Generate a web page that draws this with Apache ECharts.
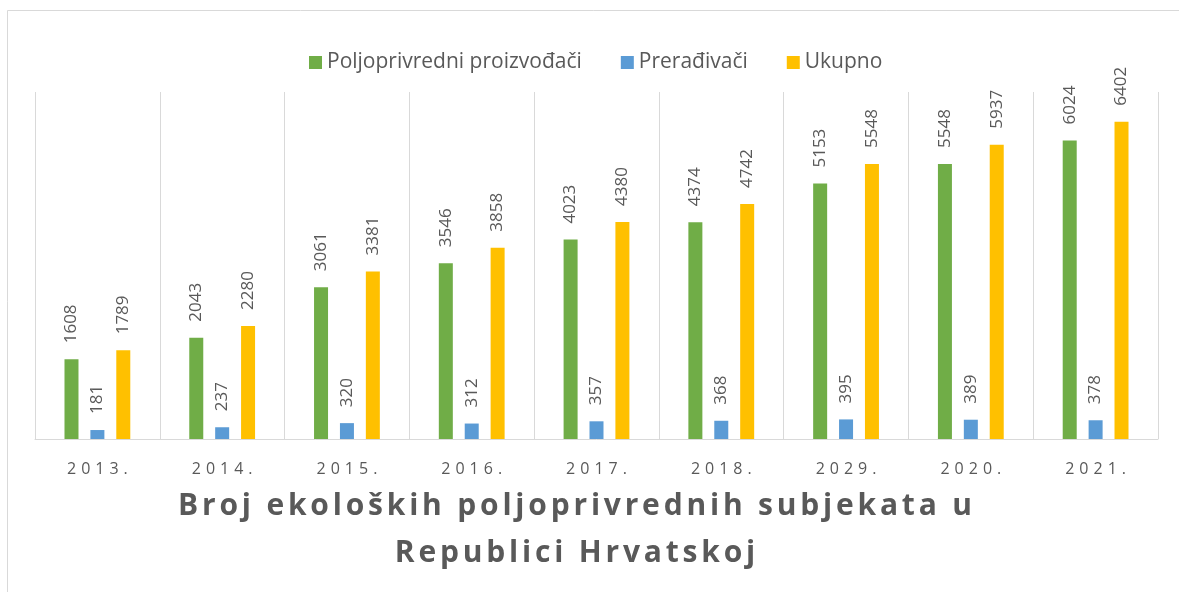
<!DOCTYPE html>
<html>
<head>
<meta charset="utf-8">
<script src="https://cdn.jsdelivr.net/npm/echarts@6/dist/echarts.min.js"></script>
<style>
  html, body { margin: 0; padding: 0; background: #fff; }
  #main { width: 1179px; height: 592px; }
</style>
</head>
<body>
<div id="main"></div>
<script>
const years = ['2013.', '2014.', '2015.', '2016.', '2017.', '2018.', '2029.', '2020.', '2021.'];
const producers = [1608, 2043, 3061, 3546, 4023, 4374, 5153, 5548, 6024];
const processors = [181, 237, 320, 312, 357, 368, 395, 389, 378];
const total = [1789, 2280, 3381, 3858, 4380, 4742, 5548, 5937, 6402];
const titleText = 'Broj ekoloških poljoprivrednih subjekata u\nRepublici Hrvatskoj';

const textColor = '#595959';
const font = 'Open Sans';

// wrap every character in a rich token so padding gives letter spacing
function spaced(str, key) {
  return str.split('\n').map(line =>
    line.split('').map(ch => '{' + key + '|' + ch + '}').join('')
  ).join('\n');
}

const chart = echarts.init(document.getElementById('main'));

function barSeries(name, data, color) {
  return {
    name: name,
    type: 'bar',
    data: data,
    barWidth: 14,
    barGap: '85%',
    itemStyle: { color: color },
    label: {
      show: true,
      position: 'top',
      rotate: 90,
      align: 'left',
      verticalAlign: 'middle',
      distance: 16,
      color: textColor,
      fontFamily: font,
      fontSize: 17
    }
  };
}

chart.setOption({
  backgroundColor: '#fff',
  animation: false,
  graphic: [{
    type: 'rect',
    shape: { x: 7.5, y: 10.5, width: 1180, height: 600 },
    style: { fill: 'none', stroke: '#d9d9d9', lineWidth: 1 }
  }],
  title: {
    text: spaced(titleText, 't'),
    left: 570,
    textAlign: 'center',
    top: 478,
    textStyle: {
      color: textColor,
      fontFamily: font,
      fontWeight: 'bold',
      fontSize: 30,
      lineHeight: 47,
      rich: {
        t: {
          color: textColor,
          fontFamily: font,
          fontWeight: 'bold',
          fontSize: 30,
          lineHeight: 47,
          padding: [0, 1.9]
        }
      }
    }
  },
  legend: {
    top: 47,
    left: 304,
    itemWidth: 13,
    itemHeight: 13,
    itemGap: 39,
    icon: 'rect',
    textStyle: { color: textColor, fontFamily: font, fontSize: 21 }
  },
  grid: { left: 35, right: 21, top: 92, bottom: 153 },
  xAxis: {
    type: 'category',
    data: years,
    axisLine: { lineStyle: { color: '#d9d9d9', width: 1 } },
    axisTick: { show: false, interval: 0 },
    splitLine: { show: true, interval: 0, lineStyle: { color: '#d9d9d9', width: 1 } },
    axisLabel: {
      interval: 0,
      margin: 22,
      color: textColor,
      fontFamily: font,
      fontSize: 16,
      formatter: v => spaced(v, 'c'),
      rich: {
        c: { color: textColor, fontFamily: font, fontSize: 16, padding: [0, 2.5] }
      }
    }
  },
  yAxis: {
    type: 'value',
    min: 0,
    max: 7000,
    show: false,
    splitLine: { show: false }
  },
  series: [
    barSeries('Poljoprivredni proizvođači', producers, '#70ad47'),
    barSeries('Prerađivači', processors, '#5b9bd5'),
    barSeries('Ukupno', total, '#ffc000')
  ]
});
</script>
</body>
</html>
